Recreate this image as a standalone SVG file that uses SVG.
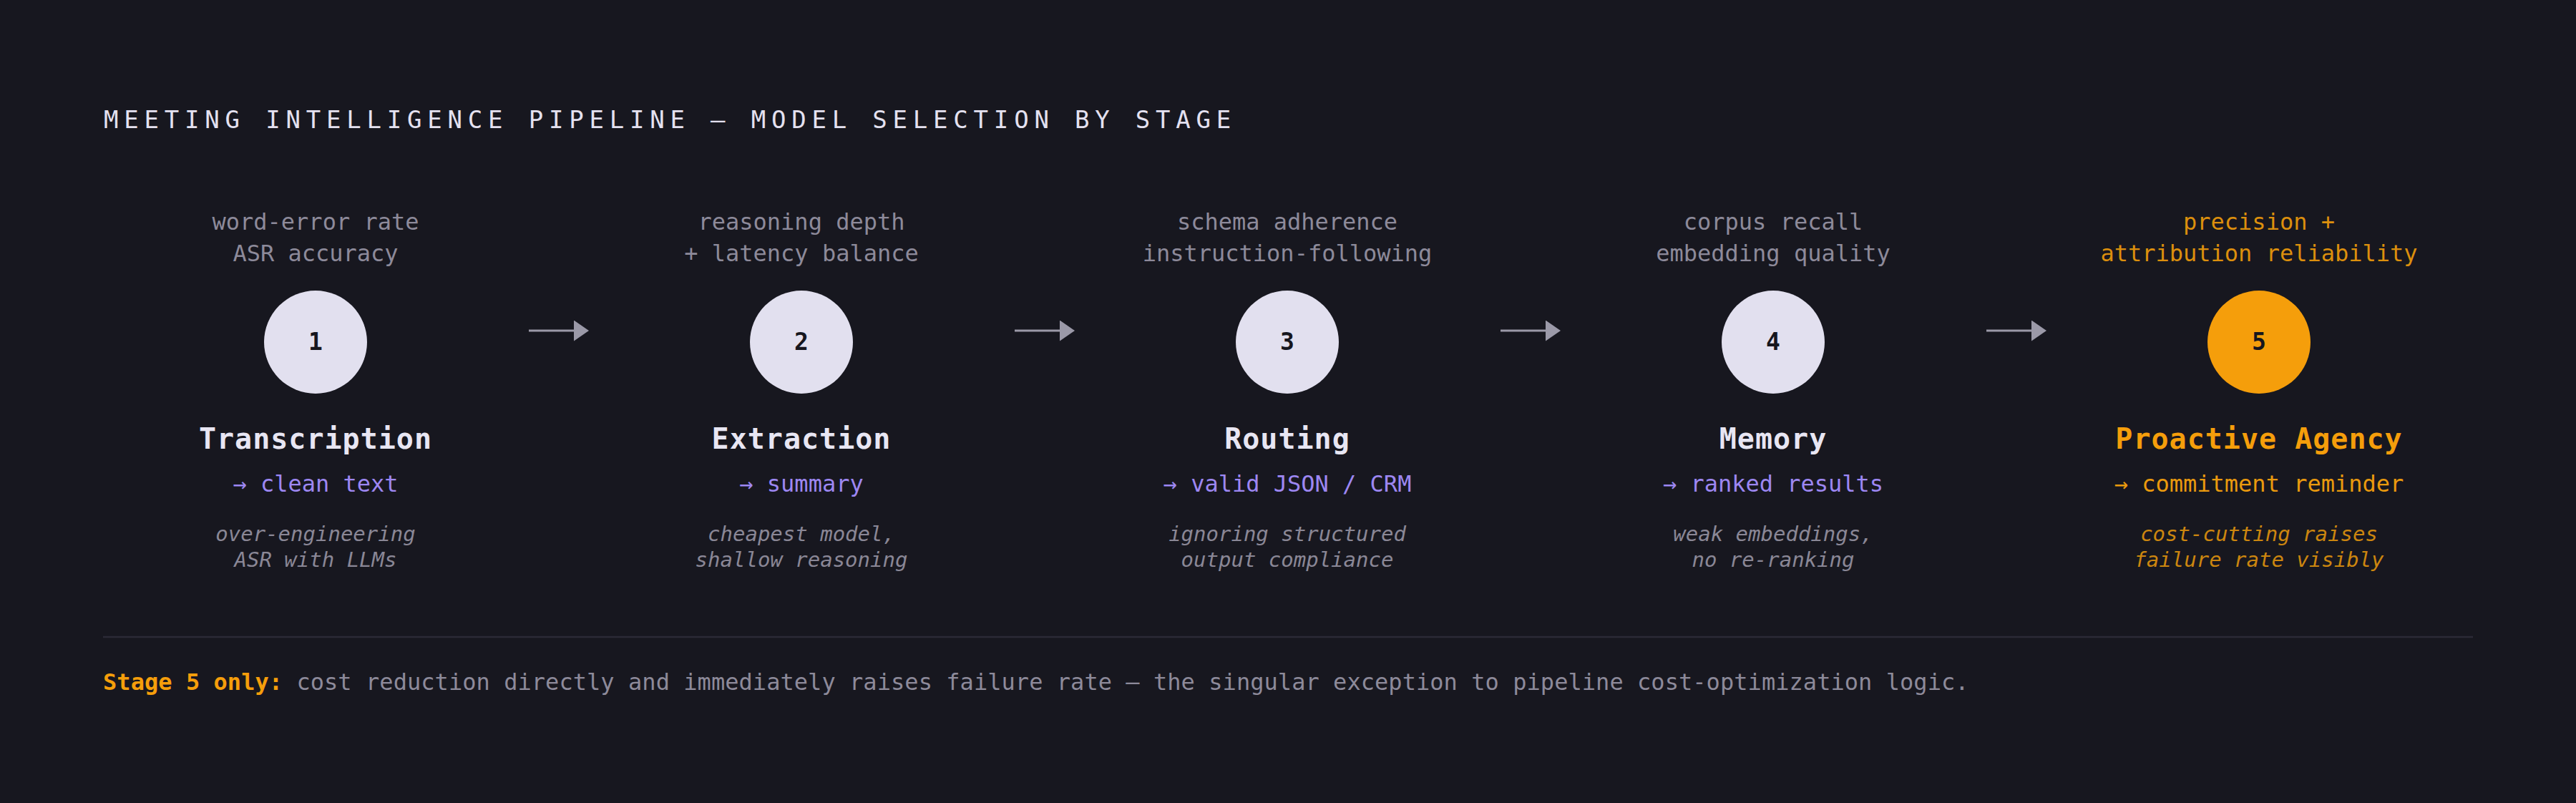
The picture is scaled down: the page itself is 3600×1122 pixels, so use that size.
<svg xmlns="http://www.w3.org/2000/svg" width="3600" height="1122" viewBox="0 0 3600 1122">
<defs>
<style>
text{font-family:"DejaVu Sans Mono","Liberation Mono",monospace;text-anchor:middle}
.title{font-size:34px;fill:#e4e1f0;letter-spacing:7.8px;text-anchor:start}
.metric{font-size:32px;fill:#8d8a9a}
.name{font-size:40px;font-weight:bold;fill:#e8e6f3;letter-spacing:1px}
.out{font-size:32px;fill:#9d87f2}
.note{font-size:29px;font-style:italic;fill:#8a8796}
.num{font-size:33px;font-weight:bold;fill:#16161e}
.circ{fill:#e2e0ef}
.hot .metric{fill:#dc8f0d}
.hot .name{fill:#f59e0b}
.hot .out{fill:#ea9a0e}
.hot .note{fill:#cc860f}
.hot .circ{fill:#f59e0b}
.conn line{stroke:#9b99a8;stroke-width:3}
.foot{font-size:32px;fill:#8d8a9a;text-anchor:start;letter-spacing:0.05px}
</style>
<marker id="ah" markerUnits="userSpaceOnUse" markerWidth="22" markerHeight="30" refX="0" refY="14.5" orient="auto">
<path d="M0,0 L21,14.5 L0,29 Z" fill="#9b99a8"/>
</marker>
</defs>
<rect width="3600" height="1122" fill="#17171f"/>
<text class="title" x="145" y="179">MEETING INTELLIGENCE PIPELINE — MODEL SELECTION BY STAGE</text>

<g id="stage1">
<text class="metric" x="441" y="321">word-error rate</text>
<text class="metric" x="441" y="365">ASR accuracy</text>
<circle class="circ" cx="441" cy="478" r="72"/>
<text class="num" x="441" y="489">1</text>
<text class="name" x="441" y="627">Transcription</text>
<text class="out" x="441" y="687">→ clean text</text>
<text class="note" x="441" y="756">over-engineering</text>
<text class="note" x="441" y="792">ASR with LLMs</text>
</g>

<g id="stage2">
<text class="metric" x="1120" y="321">reasoning depth</text>
<text class="metric" x="1120" y="365">+ latency balance</text>
<circle class="circ" cx="1120" cy="478" r="72"/>
<text class="num" x="1120" y="489">2</text>
<text class="name" x="1120" y="627">Extraction</text>
<text class="out" x="1120" y="687">→ summary</text>
<text class="note" x="1120" y="756">cheapest model,</text>
<text class="note" x="1120" y="792">shallow reasoning</text>
</g>

<g id="stage3">
<text class="metric" x="1799" y="321">schema adherence</text>
<text class="metric" x="1799" y="365">instruction-following</text>
<circle class="circ" cx="1799" cy="478" r="72"/>
<text class="num" x="1799" y="489">3</text>
<text class="name" x="1799" y="627">Routing</text>
<text class="out" x="1799" y="687">→ valid JSON / CRM</text>
<text class="note" x="1799" y="756">ignoring structured</text>
<text class="note" x="1799" y="792">output compliance</text>
</g>

<g id="stage4">
<text class="metric" x="2478" y="321">corpus recall</text>
<text class="metric" x="2478" y="365">embedding quality</text>
<circle class="circ" cx="2478" cy="478" r="72"/>
<text class="num" x="2478" y="489">4</text>
<text class="name" x="2478" y="627">Memory</text>
<text class="out" x="2478" y="687">→ ranked results</text>
<text class="note" x="2478" y="756">weak embeddings,</text>
<text class="note" x="2478" y="792">no re-ranking</text>
</g>

<g id="stage5" class="hot">
<text class="metric" x="3157" y="321">precision +</text>
<text class="metric" x="3157" y="365">attribution reliability</text>
<circle class="circ" cx="3157" cy="478" r="72"/>
<text class="num" x="3157" y="489">5</text>
<text class="name" x="3157" y="627">Proactive Agency</text>
<text class="out" x="3157" y="687">→ commitment reminder</text>
<text class="note" x="3157" y="756">cost-cutting raises</text>
<text class="note" x="3157" y="792">failure rate visibly</text>
</g>

<g id="connectors" class="conn">
<line x1="739" y1="462" x2="802" y2="462" marker-end="url(#ah)"/>
<line x1="1418" y1="462" x2="1481" y2="462" marker-end="url(#ah)"/>
<line x1="2097" y1="462" x2="2160" y2="462" marker-end="url(#ah)"/>
<line x1="2776" y1="462" x2="2839" y2="462" marker-end="url(#ah)"/>
</g>

<line x1="144" y1="890" x2="3456" y2="890" stroke="#2b2a36" stroke-width="2.5"/>
<text class="foot" x="144" y="964"><tspan font-weight="bold" fill="#f59e0b">Stage 5 only:</tspan> cost reduction directly and immediately raises failure rate — the singular exception to pipeline cost-optimization logic.</text>
</svg>
